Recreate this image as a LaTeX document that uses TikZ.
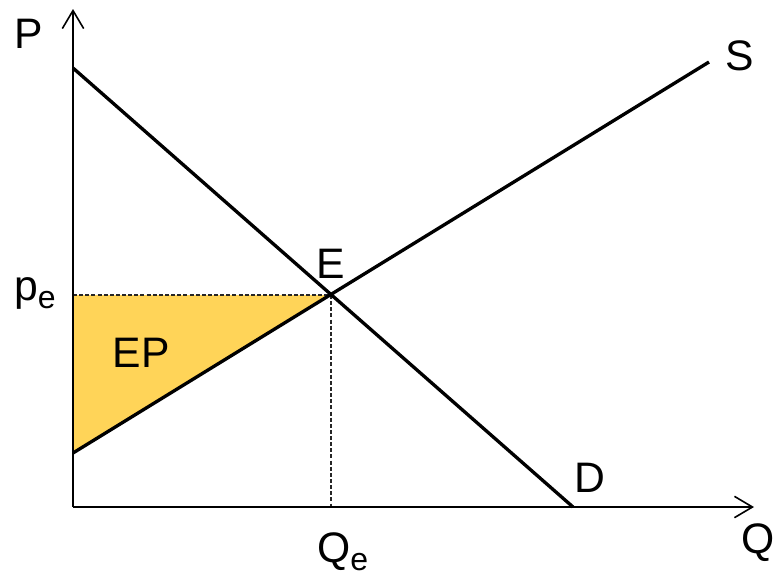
\documentclass[tikz,border=0pt]{standalone}
\usepackage{fontspec}
\setmainfont{Liberation Sans}
\usetikzlibrary{arrows.meta}
\definecolor{epfill}{RGB}{255,212,88}
\begin{document}
\begin{tikzpicture}[x=0.75pt,y=-0.75pt,
  axis/.style={line width=1.5pt,-{Straight Barb[length=13.5pt,width=16pt,line width=1.2pt]}},
  curve/.style={line width=2.5pt},
  guide/.style={line width=1pt,dash pattern=on 3pt off 1.6pt,black!85},
  lbl/.style={font=\fontsize{32}{38}\selectfont,anchor=base,inner sep=0pt}]
\useasboundingbox (0,0) rectangle (773,579);
\coordinate (O) at (73,507);
\coordinate (Ytop) at (73,9);
\coordinate (Xend) at (754,507);
\coordinate (Dtop) at (73,68);
\coordinate (Dbot) at (573,507);
\coordinate (Sbot) at (73,453);
\coordinate (Stop) at (709,62);
\coordinate (E) at (331,295);
\coordinate (Pe) at (73,295);
\coordinate (Qe) at (331,507);
\fill[epfill] (Pe) -- (E) -- (Sbot) -- cycle;
\draw[guide] (Pe) -- (E);
\draw[guide] (E) -- (Qe);
\draw[axis] (O) -- (Ytop);
\draw[axis] (O) -- (Xend);
\draw[curve] (Dtop) -- (Dbot);
\draw[curve] (Sbot) -- (Stop);
\node[lbl] (lP) at (29,48) {P};
\node[lbl] (lS) at (740,70) {S};
\node[lbl] (lE) at (331,278) {E};
\node[lbl] (lEP) at (141,367) {EP};
\node[lbl] (lD) at (590,492) {D};
\node[lbl,anchor=base west] (lQ) at (741,553) {Q};
\node[lbl,anchor=base west] (lQe) at (317,562) {Q\raisebox{-0.2em}{\fontsize{24}{28}\selectfont e}};
\node[lbl,anchor=base west] (lpe) at (14,300) {p\raisebox{-0.2em}{\fontsize{24}{28}\selectfont e}};
\end{tikzpicture}
\end{document}
